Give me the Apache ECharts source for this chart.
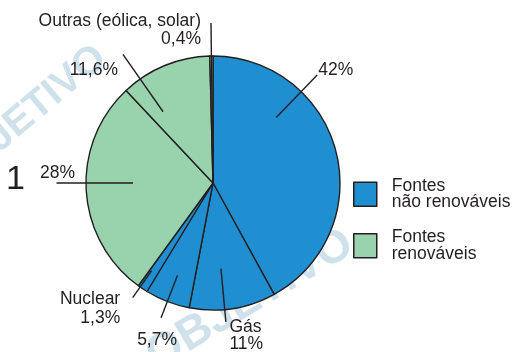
<!DOCTYPE html>
<html>
<head>
<meta charset="utf-8">
<script src="https://cdn.jsdelivr.net/npm/echarts@6/dist/echarts.min.js"></script>
<style>
  html, body { margin: 0; padding: 0; background: #ffffff; }
  #chart { width: 515px; height: 352px; }
</style>
</head>
<body>
<div id="chart"></div>
<script>
// Participação de cada fonte na matriz energética (%), no sentido horário a partir do topo
const sliceTitles = ['', 'Gás', '', 'Nuclear', '', '', 'Outras (eólica, solar)'];
const sliceValues = [42, 11, 5.7, 1.3, 28, 11.6, 0.4];
const sliceGroup  = [0, 0, 0, 0, 1, 1, 1];
const groupNames  = ['Fontes\nnão renováveis', 'Fontes\nrenováveis'];

// Aparência
const FONT = '"Liberation Sans", Arial, Helvetica, sans-serif';
const INK = '#231f20';
const groupColors = ['#1f8fd1', '#98d3ad'];
const PIE_CENTER = [213, 183];
const PIE_RADIUS = 127;

// Linhas de chamada: ângulo (graus, horário a partir do topo; null = meio da fatia),
// raio inicial/final e posição do rótulo em relação à ponta da linha
const leaderAngle = [44, 174.7, null, 215, 270, 325, null];
const leaderRadii = [[91, 150], [86, 139.5], [99, 144.5], [107, 140], [80, 156.5], [87, 157], [0, 160]];
const labelPlace = [
  { align: 'left',   dx: 1,     dy: -5,   lh: 18 },
  { align: 'left',   dx: 3.5,   dy: 14,   lh: 16.5 },
  { align: 'center', dx: -4,    dy: 22.5, lh: 18 },
  { align: 'right',  dx: -12.5, dy: 11,   lh: 18.4 },
  { align: 'center', dx: 1,     dy: -10,  lh: 18 },
  { align: 'right',  dx: -5,    dy: 16,   lh: 18 },
  { align: 'right',  dx: -10,   dy: 7,    lh: 18.4 }
];

const total = sliceValues.reduce((a, b) => a + b, 0);
let acc = 0;
const midAngle = sliceValues.map(v => { const a = (acc + v / 2) / total * 360; acc += v; return a; });

const fmtPct = v => String(v).replace('.', ',') + '%';
const sliceName = i => sliceTitles[i] || ('fonte ' + (i + 1));

const groupTotals = groupNames.map((g, k) =>
  sliceValues.reduce((s, v, i) => s + (sliceGroup[i] === k ? v : 0), 0));

const chart = echarts.init(document.getElementById('chart'), null, { renderer: 'canvas' });

chart.setOption({
  animation: false,
  backgroundColor: '#ffffff',
  legend: {
    orient: 'vertical',
    left: 348,
    top: 172,
    itemWidth: 23,
    itemHeight: 24,
    itemGap: 17,
    icon: 'rect',
    selectedMode: false,
    data: groupNames,
    itemStyle: { borderColor: INK, borderWidth: 1.5 },
    textStyle: { fontSize: 17.5, lineHeight: 16.5, color: INK, fontFamily: FONT, padding: [0, 0, 0, 10] }
  },
  graphic: [
    { type: 'text', z: -10, x: 24, y: 118, rotation: 40 * Math.PI / 180,
      style: { text: 'OBJETIVO', fill: '#cfe2ec', font: 'bold 40px ' + FONT, align: 'center', verticalAlign: 'middle' } },
    { type: 'text', z: -10, x: 250, y: 300, rotation: 31 * Math.PI / 180,
      style: { text: 'OBJETIVO', fill: '#cfe2ec', font: 'bold 46px ' + FONT, align: 'center', verticalAlign: 'middle' } },
    { type: 'text', x: 6, y: 180,
      style: { text: '1', fill: INK, font: '34px ' + FONT, align: 'left', verticalAlign: 'middle' } }
  ],
  series: [
    {
      // Fatias
      type: 'pie',
      center: PIE_CENTER,
      radius: PIE_RADIUS,
      startAngle: 90,
      clockwise: true,
      silent: true,
      z: 2,
      itemStyle: { borderColor: INK, borderWidth: 1.4 },
      label: { show: false },
      labelLine: { show: false },
      data: sliceValues.map((v, i) => ({
        name: sliceName(i),
        value: v,
        itemStyle: { color: groupColors[sliceGroup[i]] }
      }))
    },
    {
      // Rótulos e linhas de chamada, desenhados por cima das fatias
      type: 'pie',
      center: PIE_CENTER,
      radius: PIE_RADIUS,
      startAngle: 90,
      clockwise: true,
      avoidLabelOverlap: false,
      silent: true,
      z: 5,
      itemStyle: { color: 'rgba(0,0,0,0)', borderWidth: 0 },
      label: {
        show: true,
        position: 'outside',
        color: INK,
        fontSize: 17.5,
        fontFamily: FONT,
        formatter: p => (sliceTitles[p.dataIndex] ? sliceTitles[p.dataIndex] + '\n' : '') + fmtPct(p.value)
      },
      labelLine: { show: true, length: 10, length2: 0, lineStyle: { color: INK, width: 1.4 } },
      labelLayout: function (p) {
        const i = p.dataIndex;
        const deg = leaderAngle[i] != null ? leaderAngle[i] : midAngle[i];
        const t = deg * Math.PI / 180;
        const [r1, r2] = leaderRadii[i];
        const p1 = [PIE_CENTER[0] + r1 * Math.sin(t), PIE_CENTER[1] - r1 * Math.cos(t)];
        const p2 = [PIE_CENTER[0] + r2 * Math.sin(t), PIE_CENTER[1] - r2 * Math.cos(t)];
        const lp = labelPlace[i];
        return {
          x: p2[0] + lp.dx,
          y: p2[1] + lp.dy,
          align: lp.align,
          verticalAlign: 'middle',
          labelLinePoints: [p1, p2]
        };
      },
      data: sliceValues.map((v, i) => ({
        name: sliceName(i),
        value: v,
        label: { lineHeight: labelPlace[i].lh }
      }))
    },
    {
      // Totais por grupo, usados pela legenda
      type: 'pie',
      center: PIE_CENTER,
      radius: 0,
      silent: true,
      label: { show: false },
      labelLine: { show: false },
      itemStyle: { borderWidth: 0 },
      data: groupNames.map((g, k) => ({ name: g, value: groupTotals[k], itemStyle: { color: groupColors[k] } }))
    }
  ]
});
</script>
</body>
</html>
